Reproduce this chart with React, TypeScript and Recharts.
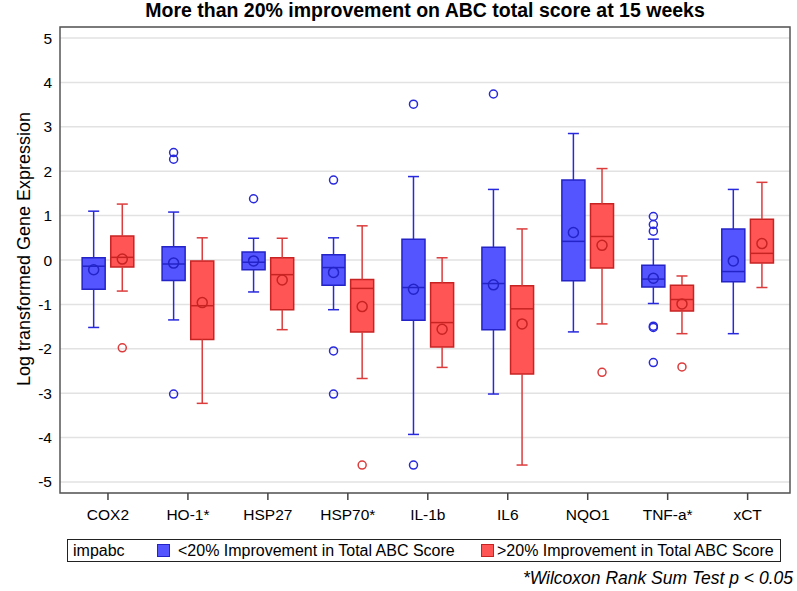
import { ComposedChart, XAxis, YAxis, CartesianGrid, Scatter, ReferenceArea, ReferenceLine } from 'recharts';

const genes = ['COX2', 'HO-1*', 'HSP27', 'HSP70*', 'IL-1b', 'IL6', 'NQO1', 'TNF-a*', 'xCT'];
const yTicks = [-5, -4, -3, -2, -1, 0, 1, 2, 3, 4, 5];

// <20% improvement group
const lowMin = [-1.52, -1.35, -0.72, -1.12, -3.93, -3.02, -1.62, -0.98, -1.66];
const lowQ1 = [-0.66, -0.46, -0.22, -0.57, -1.36, -1.57, -0.47, -0.61, -0.49];
const lowMedian = [-0.14, -0.09, -0.05, -0.17, -0.62, -0.53, 0.42, -0.43, -0.26];
const lowQ3 = [0.05, 0.30, 0.18, 0.12, 0.47, 0.29, 1.80, -0.12, 0.70];
const lowMax = [1.10, 1.08, 0.49, 0.50, 1.88, 1.59, 2.85, 0.47, 1.59];
const lowMean = [-0.22, -0.07, -0.02, -0.28, -0.66, -0.56, 0.62, -0.41, -0.02];
const lowOutliers = [[], [2.42, 2.27, -3.02], [1.38], [1.80, -2.05, -3.02], [3.51, -4.62], [3.74], [], [0.98, 0.80, 0.65, -1.49, -1.52, -2.31], []];

// >20% improvement group
const highMin = [-0.70, -3.23, -1.57, -2.67, -2.42, -4.62, -1.44, -1.66, -0.62];
const highQ1 = [-0.16, -1.79, -1.12, -1.62, -1.96, -2.57, -0.18, -1.15, -0.07];
const highMedian = [0.06, -1.03, -0.33, -0.64, -1.41, -1.10, 0.53, -0.89, 0.15];
const highQ3 = [0.54, -0.02, 0.05, -0.44, -0.51, -0.58, 1.27, -0.57, 0.92];
const highMax = [1.26, 0.50, 0.49, 0.77, 0.05, 0.70, 2.06, -0.36, 1.75];
const highMean = [0.02, -0.96, -0.45, -1.05, -1.56, -1.44, 0.33, -0.99, 0.37];
const highOutliers = [[-1.98], [], [], [-4.62], [], [], [-2.53], [-2.41], []];

const FONT = '"Liberation Sans", Arial, sans-serif';
const X_DOMAIN = [0.4, 9.53];
const Y_DOMAIN = [-5.25, 5.25];
const GROUP_OFFSET = 0.179;
const BOX_HALF = 0.144;
const CAP_HALF = 0.069;

interface Group {
  name: string;
  offset: number;
  fill: string;
  stroke: string;
  whisker: string;
  min: number[];
  q1: number[];
  median: number[];
  q3: number[];
  max: number[];
  mean: number[];
  outliers: number[][];
}

const groups: Group[] = [
  {
    name: 'low', offset: -GROUP_OFFSET, fill: '#5555ff', stroke: '#2323c8', whisker: '#2828dc',
    min: lowMin, q1: lowQ1, median: lowMedian, q3: lowQ3, max: lowMax, mean: lowMean, outliers: lowOutliers,
  },
  {
    name: 'high', offset: GROUP_OFFSET, fill: '#ff5555', stroke: '#c82323', whisker: '#dc3c3c',
    min: highMin, q1: highQ1, median: highMedian, q3: highQ3, max: highMax, mean: highMean, outliers: highOutliers,
  },
];

function seg(key: string, x1: number, y1: number, x2: number, y2: number, color: string) {
  return (
    <ReferenceLine
      key={key}
      segment={[{ x: x1, y: y1 }, { x: x2, y: y2 }]}
      stroke={color}
      strokeWidth={1.5}
      ifOverflow="visible"
    />
  );
}

function whiskers(g: Group) {
  return genes.flatMap((gene, i) => {
    const cx = i + 1 + g.offset;
    return [
      seg(`${g.name}-${gene}-up`, cx, g.q3[i], cx, g.max[i], g.whisker),
      seg(`${g.name}-${gene}-dn`, cx, g.q1[i], cx, g.min[i], g.whisker),
      seg(`${g.name}-${gene}-capu`, cx - CAP_HALF, g.max[i], cx + CAP_HALF, g.max[i], g.whisker),
      seg(`${g.name}-${gene}-capd`, cx - CAP_HALF, g.min[i], cx + CAP_HALF, g.min[i], g.whisker),
    ];
  });
}

function boxes(g: Group) {
  return genes.map((gene, i) => {
    const cx = i + 1 + g.offset;
    return (
      <ReferenceArea
        key={`${g.name}-${gene}-box`}
        x1={cx - BOX_HALF}
        x2={cx + BOX_HALF}
        y1={g.q1[i]}
        y2={g.q3[i]}
        fill={g.fill}
        fillOpacity={1}
        stroke={g.stroke}
        strokeWidth={1.5}
        ifOverflow="visible"
      />
    );
  });
}

function medians(g: Group) {
  return genes.map((gene, i) => {
    const cx = i + 1 + g.offset;
    return seg(`${g.name}-${gene}-med`, cx - BOX_HALF, g.median[i], cx + BOX_HALF, g.median[i], g.stroke);
  });
}

const meanPoints = (g: Group) => g.mean.map((m, i) => ({ x: i + 1 + g.offset, y: m }));
const outlierPoints = (g: Group) =>
  g.outliers.flatMap((vals, i) => vals.map((v) => ({ x: i + 1 + g.offset, y: v })));

const ring = (r: number, color: string) => (props: any) =>
  <circle cx={props.cx} cy={props.cy} r={r} fill="none" stroke={color} strokeWidth={1.5} />;

const YLabel = (props: any) => {
  const vb = props.viewBox;
  const x = vb.x + 24;
  const y = vb.y + vb.height / 2 - 11;
  return (
    <text
      x={x}
      y={y}
      transform={`rotate(-90 ${x} ${y})`}
      textAnchor="middle"
      dominantBaseline="central"
      fontSize={18}
      fill="#000"
      fontFamily={FONT}
    >
      Log transformed Gene Expression
    </text>
  );
};

export default function App() {
  return (
    <div style={{ position: 'absolute', left: 0, top: 0, width: 797, height: 591, background: '#fff', fontFamily: FONT }}>
      <div
        style={{
          position: 'absolute', left: 60, top: -1, width: 730, textAlign: 'center',
          fontSize: 19.5, fontWeight: 'bold', lineHeight: '22px', color: '#000',
        }}
      >
        More than 20% improvement on ABC total score at 15 weeks
      </div>

      <ComposedChart width={797} height={591} margin={{ top: 27, right: 7, left: 0, bottom: 68 }}>
        <CartesianGrid vertical={false} stroke="#e2e2e2" strokeWidth={1.5} />
        <XAxis
          type="number"
          dataKey="x"
          domain={X_DOMAIN}
          ticks={genes.map((_, i) => i + 1)}
          interval={0}
          allowDataOverflow
          tickFormatter={(v: number) => genes[v - 1] ?? ''}
          tick={{ fontSize: 15.5, fill: '#000', fontFamily: FONT }}
          tickLine={{ stroke: '#444', strokeWidth: 1.5 }}
          tickSize={7}
          tickMargin={9}
          axisLine={false}
          height={30}
        />
        <YAxis
          type="number"
          dataKey="y"
          domain={Y_DOMAIN}
          ticks={yTicks}
          interval={0}
          allowDataOverflow
          tick={{ fontSize: 15.5, fill: '#000', fontFamily: FONT }}
          tickLine={false}
          axisLine={false}
          width={60}
          label={<YLabel />}
        />
        {groups.flatMap((g) => whiskers(g))}
        {groups.flatMap((g) => boxes(g))}
        {groups.flatMap((g) => medians(g))}
        {groups.map((g) => (
          <Scatter
            key={`${g.name}-mean`}
            data={meanPoints(g)}
            shape={ring(5, g.stroke)}
            isAnimationActive={false}
          />
        ))}
        {groups.map((g) => (
          <Scatter
            key={`${g.name}-out`}
            data={outlierPoints(g)}
            shape={ring(4, g.whisker)}
            isAnimationActive={false}
          />
        ))}
        <ReferenceArea
          x1={X_DOMAIN[0]}
          x2={X_DOMAIN[1]}
          y1={Y_DOMAIN[0]}
          y2={Y_DOMAIN[1]}
          fill="none"
          stroke="#555"
          strokeWidth={1.5}
          ifOverflow="visible"
        />
      </ComposedChart>

      <div
        style={{
          position: 'absolute', left: 67, top: 539, width: 714, height: 23, boxSizing: 'border-box',
          border: '1px solid #222', fontSize: 16, color: '#000', lineHeight: '21px',
        }}
      >
        <span style={{ position: 'absolute', left: 5 }}>impabc</span>
        <span style={{ position: 'absolute', left: 89, top: 4, width: 11, height: 11, background: '#5555ff', border: '1px solid #2323c8' }} />
        <span style={{ position: 'absolute', left: 110, whiteSpace: 'nowrap' }}>&lt;20% Improvement in Total ABC Score</span>
        <span style={{ position: 'absolute', left: 413, top: 4, width: 11, height: 11, background: '#ff5555', border: '1px solid #c82323' }} />
        <span style={{ position: 'absolute', left: 429, whiteSpace: 'nowrap' }}>&gt;20% Improvement in Total ABC Score</span>
      </div>

      <div
        style={{
          position: 'absolute', right: 4, top: 568, fontSize: 17.5, fontStyle: 'italic',
          color: '#000', whiteSpace: 'nowrap', lineHeight: '20px',
        }}
      >
        *Wilcoxon Rank Sum Test p &lt; 0.05
      </div>
    </div>
  );
}
